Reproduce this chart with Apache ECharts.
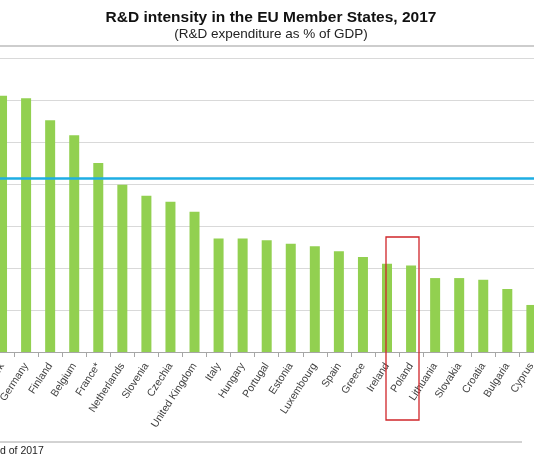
<!DOCTYPE html>
<html>
<head>
<meta charset="utf-8">
<script src="https://cdn.jsdelivr.net/npm/echarts@6/dist/echarts.min.js"></script>
<style>
html,body{margin:0;padding:0;background:#fff;}
#main{width:534px;height:462px;}
</style>
</head>
<body>
<div id="main"></div>
<script>
// countries visible in the crop (left and right edges are cut off)
var countries = ['Denmark', 'Germany', 'Finland', 'Belgium', 'France*', 'Netherlands', 'Slovenia',
    'Czechia', 'United Kingdom', 'Italy', 'Hungary', 'Portugal', 'Estonia', 'Luxembourg', 'Spain',
    'Greece', 'Ireland', 'Poland', 'Lithuania', 'Slovakia', 'Croatia', 'Bulgaria', 'Cyprus'];
// R&D expenditure, % of GDP
var intensity = [3.05, 3.02, 2.76, 2.58, 2.25, 1.99, 1.86, 1.79, 1.67, 1.35, 1.35, 1.33, 1.29,
    1.26, 1.20, 1.13, 1.05, 1.03, 0.88, 0.88, 0.86, 0.75, 0.56];
var euAverage = 2.07;
var yTicks = [0, 0.5, 1, 1.5, 2, 2.5, 3, 3.5];

relation_chart();
function relation_chart(){
    var myChart = echarts.init(document.getElementById('main'));
    var option = {
        backgroundColor: '#fff',
        animation: false,
        title: {
            text: 'R&D intensity in the EU Member States, 2017',
            subtext: '(R&D expenditure as % of GDP)',
            left: 266,
            textAlign: 'center',
            top: 5,
            itemGap: 1,
            textStyle: {fontFamily: 'Liberation Sans', fontSize: 15.5, fontWeight: 'bold', color: '#111'},
            subtextStyle: {fontFamily: 'Liberation Sans', fontSize: 13.5, color: '#222'}
        },
        grid: {
            left: -10,
            right: -9.4,
            top: 58,
            bottom: 110,
            containLabel: false,
            outerBoundsMode: 'none'
        },
        xAxis: {
            type: 'category',
            data: countries,
            axisLine: {lineStyle: {color: '#a6a6a6', width: 1}},
            axisTick: {show: true, length: 5, lineStyle: {color: '#a6a6a6'}},
            axisLabel: {
                rotate: 57,
                margin: 12,
                interval: 0,
                fontFamily: 'Liberation Sans',
                fontSize: 10.5,
                color: '#404040'
            }
        },
        yAxis: {
            type: 'value',
            min: yTicks[0],
            max: yTicks[yTicks.length - 1],
            interval: 0.5,
            axisLine: {show: false},
            axisTick: {show: false},
            axisLabel: {show: false},
            splitLine: {lineStyle: {color: '#d9d9d9', width: 1}}
        },
        series: [{
            type: 'bar',
            data: intensity,
            barWidth: 10,
            itemStyle: {color: '#92d050'},
            markLine: {
                silent: true,
                symbol: 'none',
                label: {show: false},
                lineStyle: {color: '#1eaee3', width: 2.5, type: 'solid'},
                data: [{yAxis: euAverage}]
            }
        }],
        graphic: [
            // frame line above plot
            {type: 'line', shape: {x1: 0, y1: 46, x2: 534, y2: 46},
                style: {stroke: '#bdbdbd', lineWidth: 1.5}},
            // highlight box around Poland
            {type: 'rect', shape: {x: 386, y: 237, width: 33, height: 183},
                style: {fill: 'none', stroke: '#d0262a', lineWidth: 1.3}, z: 10},
            // footnote separator
            {type: 'line', shape: {x1: 0, y1: 442, x2: 522, y2: 442},
                style: {stroke: '#a6a6a6', lineWidth: 1}},
            {type: 'text', left: 0, top: 446,
                style: {text: 'd of 2017', fontFamily: 'Liberation Sans', fontSize: 10.5, fill: '#222'}}
        ]
    };
    myChart.setOption(option);
}
</script>
</body>
</html>
